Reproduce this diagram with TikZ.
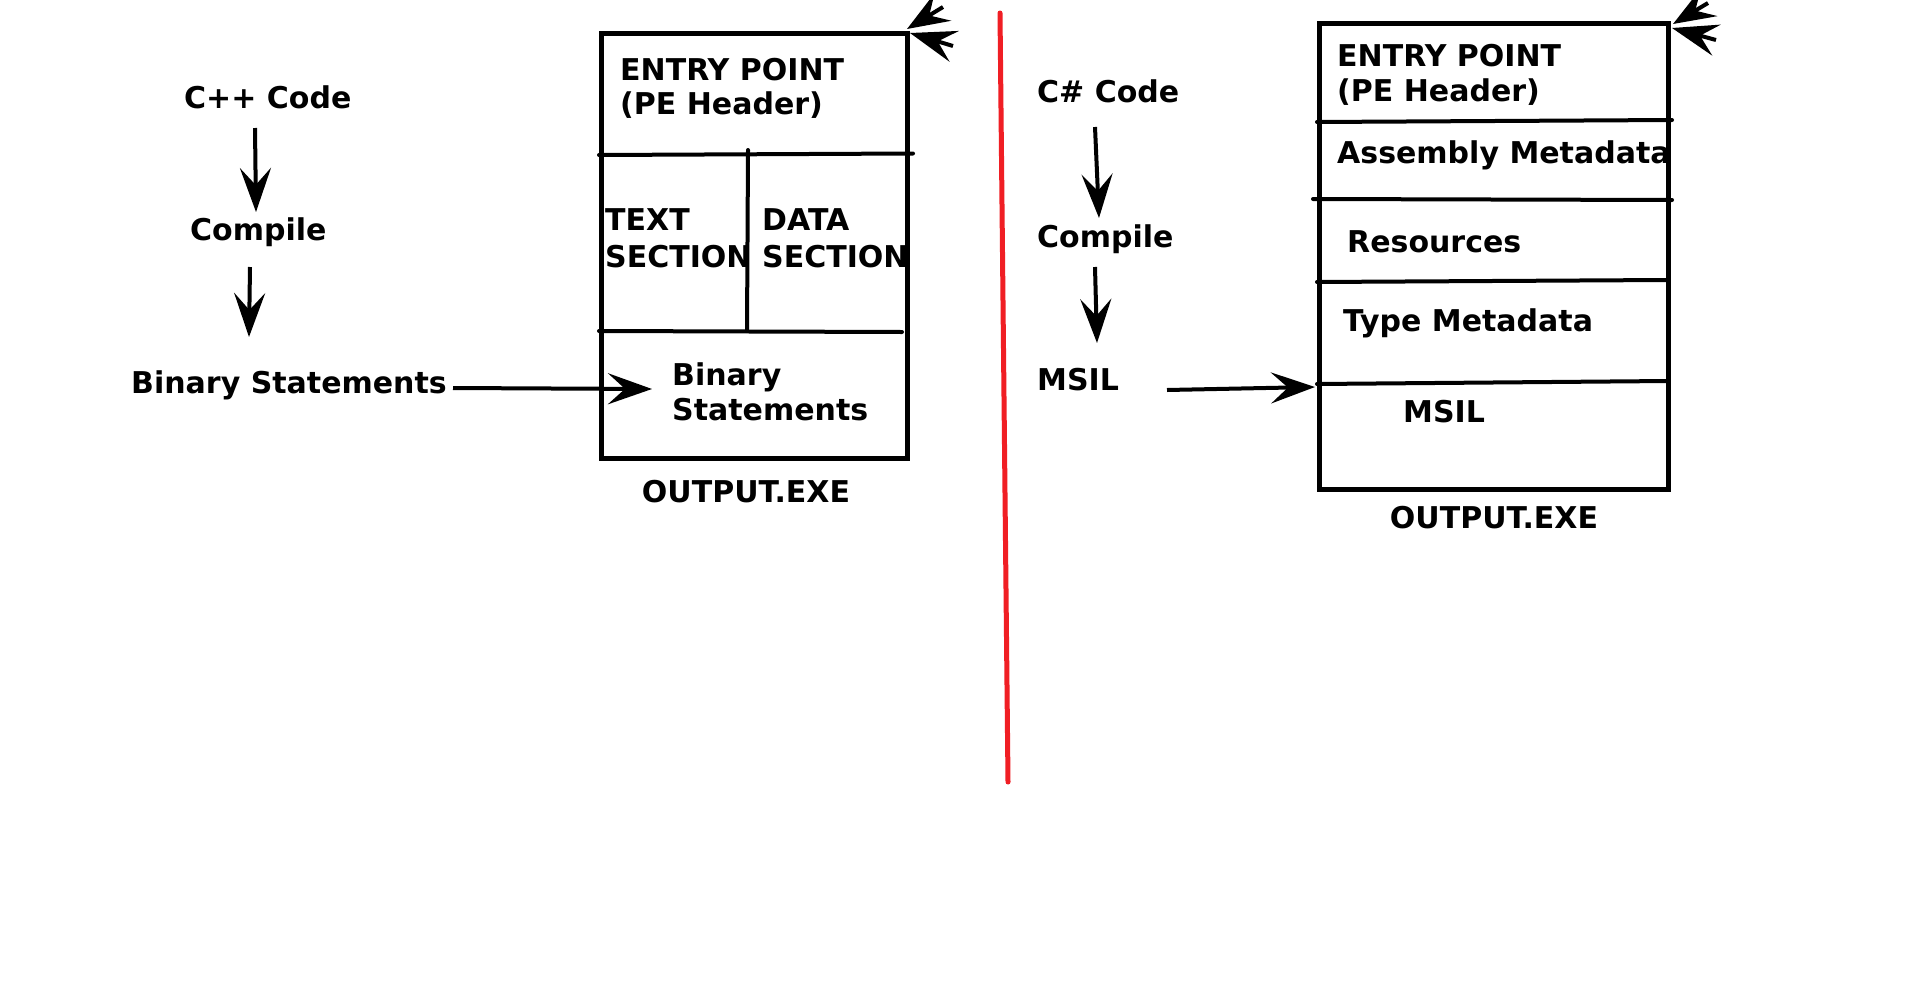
\documentclass[tikz,border=0pt]{standalone}
\usepackage{fontspec}
\setmainfont{DejaVu Sans}
\usetikzlibrary{arrows.meta}
\definecolor{divred}{RGB}{240,30,36}
\begin{document}
\begin{tikzpicture}[x=1pt,y=-1pt,
  lbl/.style={inner sep=0pt, anchor=base west, font=\bfseries\fontsize{30}{36}\selectfont},
  clbl/.style={lbl, anchor=base},
  conn/.style={line width=4pt, -{Stealth[length=44pt,width=31pt,inset=17pt]}},
  part/.style={line width=4pt, line cap=round},
  exebox/.style={draw, line width=4.5pt, inner sep=0pt, anchor=north west},
  strayA/.style={line width=4pt, -{Stealth[length=42pt,width=32pt,inset=16pt]}},
  strayB/.style={line width=4pt, -{Stealth[length=46pt,width=32pt,inset=17pt]}},
]
\fill[white] (0,0) rectangle (1920,991);
\useasboundingbox (0,0) rectangle (1920,991);

% ---------------- left: C++ ----------------
\node[lbl] (cpp)   at (184,108) {C++ Code};
\node[lbl] (compL) at (190,240) {Compile};
\node[lbl] (binL)  at (131,393) {Binary Statements};

\node[exebox, minimum width=306pt, minimum height=425pt] (exeL) at (599,31) {};
\draw[part] (exeL.north west |- 0,155) coordinate (l1a) -- (913,153.5) coordinate (l1b);
\draw[part] (748,150) coordinate (vda) -- (747,331) coordinate (vdb);
\draw[part] (exeL.north west |- 0,331) coordinate (l2a) -- (902,332) coordinate (l2b);

\node[lbl] (epL1) at (620,80)  {ENTRY POINT};
\node[lbl] (epL2) at (620,114) {(PE Header)};
\node[lbl] (txt1) at (605,230) {TEXT};
\node[lbl] (txt2) at (605,267) {SECTION};
\node[lbl] (dat1) at (762,230) {DATA};
\node[lbl] (dat2) at (762,267) {SECTION};
\node[lbl] (bsL1) at (672,385) {Binary};
\node[lbl] (bsL2) at (672,420) {Statements};
\node[clbl] (outL) at (746,502) {OUTPUT.EXE};

\coordinate (a1s) at (255,128); \coordinate (a1e) at (256,212);
\coordinate (a2s) at (250,267); \coordinate (a2e) at (249,337);
\coordinate (a3s) at (453,388); \coordinate (a3e) at (652,389);
\draw[conn] (a1s) -- (a1e);
\draw[conn] (a2s) -- (a2e);
\draw[conn] (a3s) -- (a3e);

\coordinate (sLa) at (943,7);   \coordinate (tLa) at (907,29);
\coordinate (sLb) at (953,46);  \coordinate (tLb) at (910,33);
\draw[strayA] (sLa) -- (tLa);
\draw[strayB] (sLb) -- (tLb);

% ---------------- divider ----------------
\draw[divred, line width=5pt, line cap=round] (1000,13) -- (1008,782);

% ---------------- right: C# ----------------
\node[lbl] (cs)    at (1037,102) {C\# Code};
\node[lbl] (compR) at (1037,247) {Compile};
\node[lbl] (msilR) at (1037,390) {MSIL};

\node[exebox, minimum width=349pt, minimum height=466pt] (exeR) at (1317,21) {};
\draw[part] (1317,122) coordinate (r1a) -- (1672,120) coordinate (r1b);
\draw[part] (1313,199) coordinate (r2a) -- (1672,200) coordinate (r2b);
\draw[part] (1317,282) coordinate (r3a) -- (1666,280) coordinate (r3b);
\draw[part] (1317,384) coordinate (r4a) -- (1668,381) coordinate (r4b);

\node[lbl] (epR1) at (1337,66)  {ENTRY POINT};
\node[lbl] (epR2) at (1337,101) {(PE Header)};
\node[lbl] (asm)  at (1337,163) {Assembly Metadata};
\node[lbl] (res)  at (1347,252) {Resources};
\node[lbl] (typ)  at (1343,331) {Type Metadata};
\node[lbl] (msilB) at (1403,422) {MSIL};
\node[clbl] (outR) at (1494,528) {OUTPUT.EXE};

\coordinate (b1s) at (1095,127); \coordinate (b1e) at (1099,218);
\coordinate (b2s) at (1095,267); \coordinate (b2e) at (1097,343);
\coordinate (b3s) at (1167,390); \coordinate (b3e) at (1315,387);
\draw[conn] (b1s) -- (b1e);
\draw[conn] (b2s) -- (b2e);
\draw[conn] (b3s) -- (b3e);

\coordinate (sRa) at (1708,3);  \coordinate (tRa) at (1673,24);
\coordinate (sRb) at (1716,40); \coordinate (tRb) at (1672,28);
\draw[strayA] (sRa) -- (tRa);
\draw[strayB] (sRb) -- (tRb);
\end{tikzpicture}
\end{document}
